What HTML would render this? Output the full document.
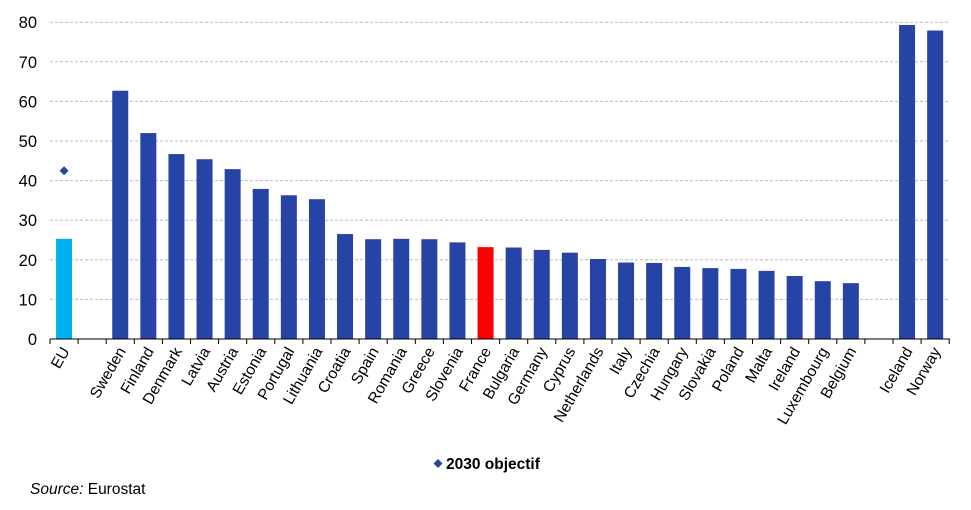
<!DOCTYPE html>
<html><head><meta charset="utf-8"><style>
body{margin:0;background:#fff;}
svg{display:block;font-family:"Liberation Sans",Arial,sans-serif;}
</style></head><body>
<svg width="971" height="510" viewBox="0 0 971 510" xmlns="http://www.w3.org/2000/svg">
<g id="grid" stroke="#bbb" stroke-dasharray="3,2" stroke-width="1"></g>
<g id="bars"></g>
<g id="axis"></g>
<g id="labels" font-size="15.5" fill="#000"></g>
<path d="M438,459 L442.5,463.5 L438,468 L433.5,463.5 Z" fill="#2643a6"/>
<text x="446" y="469" font-size="15.5" font-weight="bold">2030 objectif</text>
<text x="30" y="494" font-size="15.5"><tspan font-style="italic">Source:</tspan> Eurostat</text>
<script>
const ns="http://www.w3.org/2000/svg";
function el(p,t,a,txt){const e=document.createElementNS(ns,t);for(const k in a)e.setAttribute(k,a[k]);if(txt!==undefined)e.textContent=txt;document.getElementById(p).appendChild(e);return e;}
const y0=339,s=3.96,x0=50,w=28.1;
for(let v=0;v<=80;v+=10){const y=y0-v*s;if(v>0)el("grid","line",{x1:x0,x2:950,y1:y,y2:y});el("labels","text",{x:37,y:y+6,"text-anchor":"end","font-size":"16.5"},v);}
const d=[["EU",25.3],null,["Sweden",62.7],["Finland",52],["Denmark",46.7],["Latvia",45.4],["Austria",42.9],["Estonia",37.9],["Portugal",36.3],["Lithuania",35.3],["Croatia",26.5],["Spain",25.2],["Romania",25.3],["Greece",25.2],["Slovenia",24.4],["France",23.2],["Bulgaria",23.1],["Germany",22.5],["Cyprus",21.8],["Netherlands",20.2],["Italy",19.3],["Czechia",19.2],["Hungary",18.2],["Slovakia",17.9],["Poland",17.7],["Malta",17.2],["Ireland",15.9],["Luxembourg",14.6],["Belgium",14.1],null,["Iceland",79.3],["Norway",77.9]];
d.forEach((r,i)=>{const cx=x0+w*(i+0.5);if(r){const h=r[1]*s;const c=r[0]=="EU"?"#00b0f0":r[0]=="France"?"#ff0000":"#2643a6";el("bars","rect",{x:cx-8,y:y0-h,width:16,height:h,fill:c});el("labels","text",{x:0,y:0,"text-anchor":"end",transform:`translate(${cx+6},${y0+12}) rotate(-60)`},r[0]);}});
el("axis","line",{x1:x0,x2:950,y1:y0,y2:y0,stroke:"#000","stroke-width":1});
for(let i=0;i<=32;i++){const x=x0+w*i;el("axis","line",{x1:x,x2:x,y1:y0,y2:y0+5,stroke:"#000","stroke-width":1});}
const ey=y0-42.5*s,ex=x0+w*0.5;
el("axis","path",{d:`M${ex},${ey-4.5} L${ex+4.5},${ey} L${ex},${ey+4.5} L${ex-4.5},${ey} Z`,fill:"#2643a6"});
</script>
</svg>
</body></html>
